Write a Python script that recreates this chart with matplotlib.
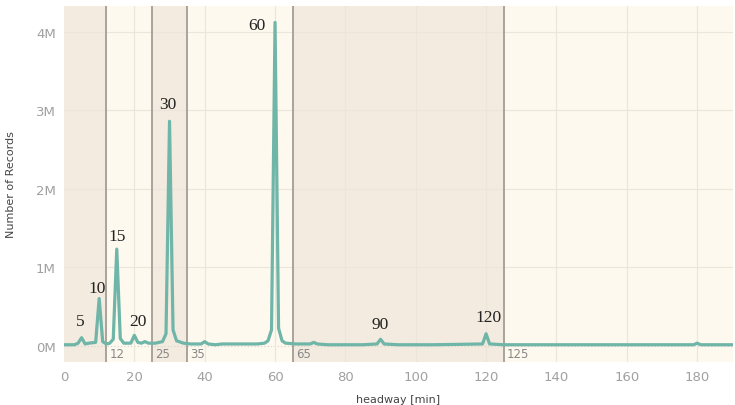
import matplotlib
matplotlib.use('Agg')
import matplotlib.pyplot as plt

# headway (minutes) and number of records (millions)
headway = [0, 3, 4, 5, 6, 7, 9, 10, 11, 12, 13, 14, 15, 16, 17, 19, 20, 21, 22, 23, 24, 26,
           28, 29, 30, 31, 32, 34, 36, 39, 40, 41, 43, 45, 50, 55, 57, 58, 59, 60, 61, 62,
           63, 66, 70, 71, 72, 75, 85, 89, 90, 91, 95, 105, 119, 120, 121, 125, 150, 178,
           179, 180, 181, 182, 190]
records = [0.01, 0.01, 0.03, 0.10, 0.02, 0.03, 0.04, 0.60, 0.05, 0.02, 0.03, 0.08, 1.23, 0.09,
           0.03, 0.03, 0.13, 0.04, 0.03, 0.05, 0.03, 0.03, 0.05, 0.15, 2.86, 0.20, 0.06, 0.03,
           0.02, 0.02, 0.05, 0.02, 0.01, 0.02, 0.02, 0.02, 0.03, 0.06, 0.20, 4.12, 0.22, 0.06,
           0.03, 0.02, 0.02, 0.04, 0.02, 0.01, 0.01, 0.02, 0.08, 0.02, 0.01, 0.01, 0.02, 0.15,
           0.02, 0.01, 0.01, 0.01, 0.01, 0.03, 0.01, 0.01, 0.01]

# peak annotations
peak_labels = ['5', '10', '15', '20', '30', '60', '90', '120']
peak_x = [5, 10, 15, 20, 30, 60, 90, 120]
peak_y = [0.10, 0.60, 1.23, 0.13, 2.86, 4.12, 0.08, 0.15]

# band boundaries
bounds = [0, 12, 25, 35, 65, 125, 190]
bound_labels = ['12', '25', '35', '65', '125']

dark_band = '#f3ebdf'
light_band = '#fdf9ee'
line_color = '#6fb5a8'
grey = '#a0a0a0'

# label offsets from the peak (x in min, y in M)
label_off = {'5': (-0.45, 0.21), '10': (-0.6, 0.14), '15': (0.1, 0.17), '20': (1.0, 0.18),
             '30': (-0.4, 0.22), '60': (-5.1, -0.03), '90': (-0.2, 0.2), '120': (0.6, 0.21)}

fig = plt.figure(figsize=(7.35, 4.06), dpi=100)
ax = fig.add_axes([64 / 735, 1 - 363 / 406, (733 - 64) / 735, (363 - 7) / 406])

xmin, xmax = 0, 190.2
ymin, ymax = -0.21, 4.33

for i in range(len(bounds) - 1):
    c = dark_band if i % 2 == 0 else light_band
    ax.axvspan(bounds[i], bounds[i + 1] if i < len(bounds) - 2 else xmax,
               color=c, lw=0, zorder=0)

# grid
for yv in [1, 2, 3, 4]:
    ax.axhline(yv, color='#ece6da', lw=0.8, zorder=1)
ax.axhline(0, color='#d8d2c8', lw=0.8, ls=(0, (1, 2)), zorder=1)
for xv in range(20, 190, 20):
    ax.axvline(xv, color='#ece6da', lw=0.8, zorder=1)

for b, lab in zip(bounds[1:-1], bound_labels):
    ax.axvline(b, color='#a8a39c', lw=1.4, zorder=2)
    ax.text(b + 0.9, -0.19, lab, fontsize=8.5, color='#888888', ha='left', va='bottom',
            zorder=3)

ax.plot(headway, records, color=line_color, lw=2.3, zorder=4, solid_joinstyle='round')

for lab, px, py in zip(peak_labels, peak_x, peak_y):
    dx, dy = label_off[lab]
    ax.text(px + dx, py + dy, lab, fontsize=12.5, family='Liberation Serif',
            color='#222222', ha='center', va='center', zorder=5)

ax.set_xlim(xmin, xmax)
ax.set_ylim(ymin, ymax)
ax.set_xticks(range(0, 190, 20))
ax.set_yticks([0, 1, 2, 3, 4])
ax.set_yticklabels(['0M', '1M', '2M', '3M', '4M'])
ax.tick_params(axis='y', length=0, labelsize=9.5, labelcolor=grey, pad=6)
ax.tick_params(axis='x', length=0, labelsize=9.5, labelcolor=grey, pad=6)
for s in ax.spines.values():
    s.set_visible(False)

fig.text(11 / 735, 1 - 185 / 406, 'Number of Records', rotation=90, fontsize=8,
         color='#444444', ha='center', va='center')
fig.text(398 / 735, 1 / 406, 'headway [min]', fontsize=8, color='#444444',
         ha='center', va='bottom')

fig.savefig('out.png', dpi=100)
